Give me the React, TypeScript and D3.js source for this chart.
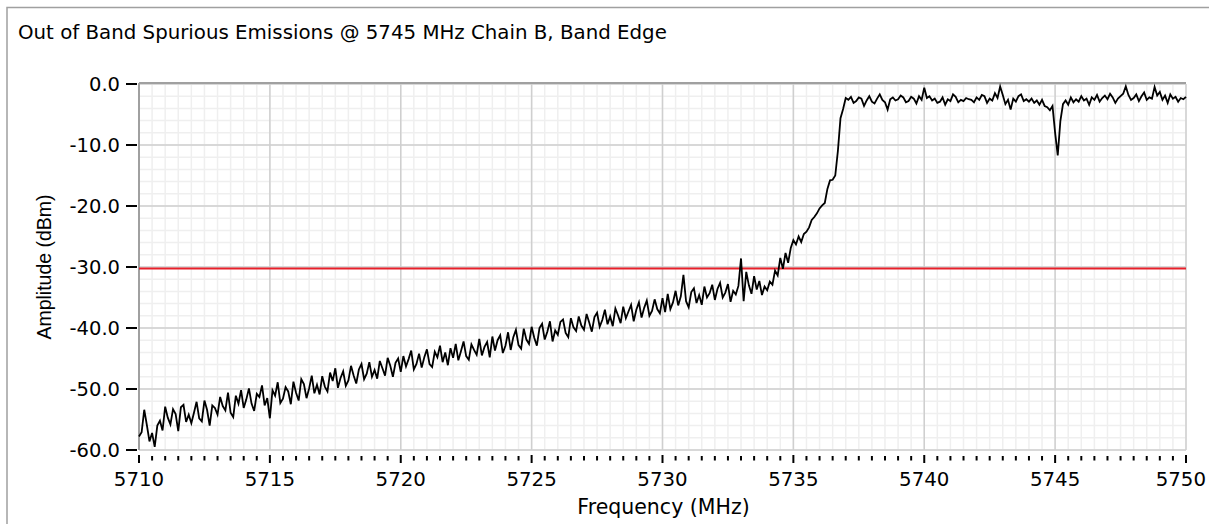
import React from 'react';
import * as d3 from 'd3';

const title = 'Out of Band Spurious Emissions @ 5745 MHz Chain B, Band Edge';
const xLabel = 'Frequency (MHz)';
const yLabel = 'Amplitude (dBm)';
const freqStart = 5710;
const freqStep = 0.1;
const xDomain = [5710, 5750];
const yDomain = [-60, 0];
const xTicks = [5710, 5715, 5720, 5725, 5730, 5735, 5740, 5745, 5750];
const yTicks = [0, -10, -20, -30, -40, -50, -60];
const limitLine = -30;

// amplitude (dBm), one row per MHz, 0.1 MHz step
const amplitude = [
  -57.8, -57.1, -53.4, -55.9, -58.6, -57.2, -59.5, -56.0, -55.2, -56.8,
  -52.9, -54.7, -55.8, -53.3, -54.1, -56.9, -53.0, -52.6, -55.4, -54.2,
  -55.6, -53.9, -52.1, -54.8, -55.3, -51.9, -53.4, -56.0, -52.7, -53.1,
  -54.2, -51.3, -52.8, -53.5, -50.6, -53.9, -54.6, -51.1, -52.4, -50.2,
  -53.1, -51.7, -49.9, -52.4, -53.6, -50.8, -51.3, -49.4, -52.7, -51.5,
  -54.8, -50.2, -51.1, -48.9, -52.3, -51.6, -49.7, -50.4, -52.5, -48.8,
  -50.6, -51.9, -48.4, -49.2, -51.5, -49.9, -47.8, -50.7, -49.3, -50.9,
  -47.9, -49.6, -50.4, -47.3, -48.7, -46.6, -49.8, -48.2, -47.1, -49.5,
  -48.6, -46.2, -47.8, -49.1, -46.8, -45.9, -48.4, -47.5, -45.6, -48.0,
  -46.9, -48.3, -45.4, -46.6, -47.8, -44.9, -46.2, -48.0, -45.7, -45.0,
  -47.2, -44.6, -46.3, -45.1, -43.7, -46.8, -45.9, -44.2, -46.5, -44.8,
  -43.5, -45.9, -46.4, -43.9, -44.8, -42.9, -45.6, -44.0, -46.1, -43.3,
  -44.9, -42.6, -45.3, -43.8, -42.2, -44.6, -45.2, -42.7, -43.6, -44.4,
  -41.8, -44.5, -43.1, -42.3, -44.8, -41.4, -43.7, -42.0, -41.2, -44.1,
  -42.9, -40.7, -43.6, -41.5, -40.3, -42.8, -43.4, -40.1, -41.9, -42.6,
  -39.8, -41.6, -42.9, -40.0, -39.3, -41.9, -40.6, -38.9, -42.2, -40.4,
  -41.1, -39.0, -38.6, -40.8, -41.5, -38.4, -39.9, -40.5, -38.1, -39.6,
  -40.3, -37.7, -39.1, -40.6, -38.2, -37.5, -39.8, -38.7, -37.0, -39.4,
  -38.1, -39.7, -36.8, -37.9, -39.2, -36.5, -38.4, -37.3, -36.2, -38.9,
  -37.0, -35.8, -38.3, -36.7, -35.5, -38.0, -37.2, -35.3, -36.9, -37.6,
  -35.1, -37.4, -34.4, -36.9, -35.8, -33.9, -36.3, -34.8, -31.3, -35.6,
  -36.6, -34.1, -33.5, -35.9, -34.6, -36.2, -33.2, -35.0, -34.3, -32.9,
  -35.4, -33.6, -32.6, -35.0, -34.2, -32.8, -35.7, -33.9, -34.5, -33.1,
  -28.6, -35.6, -30.8, -33.0, -34.4, -31.5, -33.7, -32.3, -34.6, -33.2,
  -33.8, -32.4, -32.9, -30.6, -31.4, -28.5, -30.3, -27.7, -29.3, -26.9,
  -25.6, -26.3, -25.0, -25.9, -24.6, -24.2, -23.5, -22.3, -21.8, -21.2,
  -20.4, -19.9, -19.5, -17.2, -15.8, -15.7, -15.0, -11.0, -5.6, -4.1,
  -2.3, -2.6, -2.1, -3.1, -2.8, -2.2, -2.4, -3.6, -2.7, -2.0,
  -2.9, -3.2, -2.4, -1.7, -2.6, -3.0, -4.2, -2.5, -2.2, -2.7,
  -2.5, -1.9, -2.2, -3.0, -2.8, -2.1, -2.4, -3.2, -2.0, -2.6,
  -0.6, -2.3, -2.0, -2.7, -2.4, -3.1, -2.9, -2.2, -3.4, -2.5,
  -2.8, -1.7, -2.1, -3.0, -2.6, -2.8, -2.3, -2.5, -2.6, -3.0,
  -2.2, -2.6, -1.8, -2.0, -3.1, -2.4, -2.7, -1.5, -2.3, -0.4,
  -1.8, -3.3, -2.6, -4.2, -2.4, -2.9, -2.0, -1.7, -2.8, -2.5,
  -2.9, -2.4, -3.1, -2.7, -3.4, -2.6, -3.6, -3.8, -4.3, -3.6,
  -8.0, -11.7, -6.1, -3.3, -2.7, -3.4, -2.2, -3.0, -2.5, -2.9,
  -2.0, -2.7, -2.4, -3.4, -2.2, -2.6, -1.8, -2.9, -2.3, -1.9,
  -2.5, -1.6, -2.2, -3.1, -2.4, -2.0, -1.6, -0.4, -1.8, -2.6,
  -2.3, -1.7, -2.8, -2.0, -1.4, -2.6, -2.2, -2.4, -0.5, -1.9,
  -1.3, -2.6, -1.9, -3.1, -1.7, -2.4, -2.1, -2.9, -2.3, -2.5,
  -2.1,
];

const frequencies = amplitude.map((_, i) => freqStart + i * freqStep);

const W = 1209;
const H = 524;
const M = { left: 139, right: 1186, top: 84, bottom: 450 };

export default function App() {
  const x = d3.scaleLinear().domain(xDomain).range([M.left, M.right]);
  const y = d3.scaleLinear().domain(yDomain).range([M.bottom, M.top]);

  const xMinor = d3.range(xDomain[0], xDomain[1] + 0.001, 0.5);
  const yMinor = d3.range(yDomain[0], yDomain[1] + 0.001, 2);

  const line = d3
    .line<number>()
    .x((_, i) => x(frequencies[i]))
    .y((d) => y(d));

  const font = '"DejaVu Sans", Verdana, sans-serif';
  const tickFont = 19.8;
  const halfLabel = tickFont * 0.636 * 2; // half width of a 4-digit label

  return (
    <svg
      width={W}
      height={H}
      style={{ position: 'absolute', left: 0, top: 0, background: '#fff' }}
    >
      <rect x={0} y={0} width={W} height={H} fill="#fff" />
      {/* outer frame */}
      <rect x={7} y={7.5} width={W + 10} height={H + 10} fill="none" stroke="#a0a0a0" strokeWidth={1.5} />
      <text x={18} y={39} fontFamily={font} fontSize={19.8} fill="#000">
        {title}
      </text>

      {/* minor grid */}
      {xMinor.map((v) => (
        <line key={'xm' + v} x1={x(v)} x2={x(v)} y1={M.top} y2={M.bottom} stroke="#efefef" strokeWidth={1.5} />
      ))}
      {yMinor.map((v) => (
        <line key={'ym' + v} x1={M.left} x2={M.right} y1={y(v)} y2={y(v)} stroke="#efefef" strokeWidth={1.5} />
      ))}
      {/* major grid */}
      {xTicks.map((v) => (
        <line key={'xg' + v} x1={x(v)} x2={x(v)} y1={M.top} y2={M.bottom} stroke="#cfcfcf" strokeWidth={1.5} />
      ))}
      {yTicks.map((v) => (
        <line key={'yg' + v} x1={M.left} x2={M.right} y1={y(v)} y2={y(v)} stroke="#cfcfcf" strokeWidth={1.5} />
      ))}
      {/* plot border top & left */}
      <line x1={M.left} x2={M.right} y1={M.top - 1} y2={M.top - 1} stroke="#a0a0a0" strokeWidth={2} />
      <line x1={M.left} x2={M.left} y1={M.top - 1} y2={M.bottom} stroke="#a0a0a0" strokeWidth={2} />

      {/* limit line */}
      <line x1={M.left} x2={M.right} y1={y(limitLine) + 1.5} y2={y(limitLine) + 1.5} stroke="#e8202a" strokeWidth={2} />

      {/* trace */}
      <path d={line(amplitude) || ''} fill="none" stroke="#000" strokeWidth={1.8} strokeLinejoin="miter" />

      {/* y axis ticks */}
      {yTicks.map((v) => (
        <g key={'yt' + v}>
          <line x1={126} x2={137} y1={y(v)} y2={y(v)} stroke="#000" strokeWidth={2} />
          <text x={120} y={y(v) + 7} textAnchor="end" fontFamily={font} fontSize={19.5} fill="#000">
            {v.toFixed(1)}
          </text>
        </g>
      ))}
      {/* x axis ticks */}
      {xMinor.map((v) => {
        const major = Math.abs(v - Math.round(v / 5) * 5) < 1e-6;
        return (
          <line
            key={'xt' + v}
            x1={x(v)}
            x2={x(v)}
            y1={major ? 455 : 456}
            y2={major ? 463 : 460.5}
            stroke="#000"
            strokeWidth={2}
          />
        );
      })}
      {xTicks.map((v) => (
        <text
          key={'xl' + v}
          x={Math.min(x(v), W - 3 - halfLabel)}
          y={486}
          textAnchor="middle"
          fontFamily={font}
          fontSize={tickFont}
          fill="#000"
        >
          {v}
        </text>
      ))}

      <text x={(M.left + M.right) / 2 + 1} y={514} textAnchor="middle" fontFamily={font} fontSize={20.5} fill="#000">
        {xLabel}
      </text>
      <text
        transform={`translate(51, ${(M.top + M.bottom) / 2}) rotate(-90)`}
        textAnchor="middle"
        fontFamily='"Liberation Sans", Arial, sans-serif'
        fontSize={19.5}
        fill="#000"
      >
        {yLabel}
      </text>
    </svg>
  );
}
